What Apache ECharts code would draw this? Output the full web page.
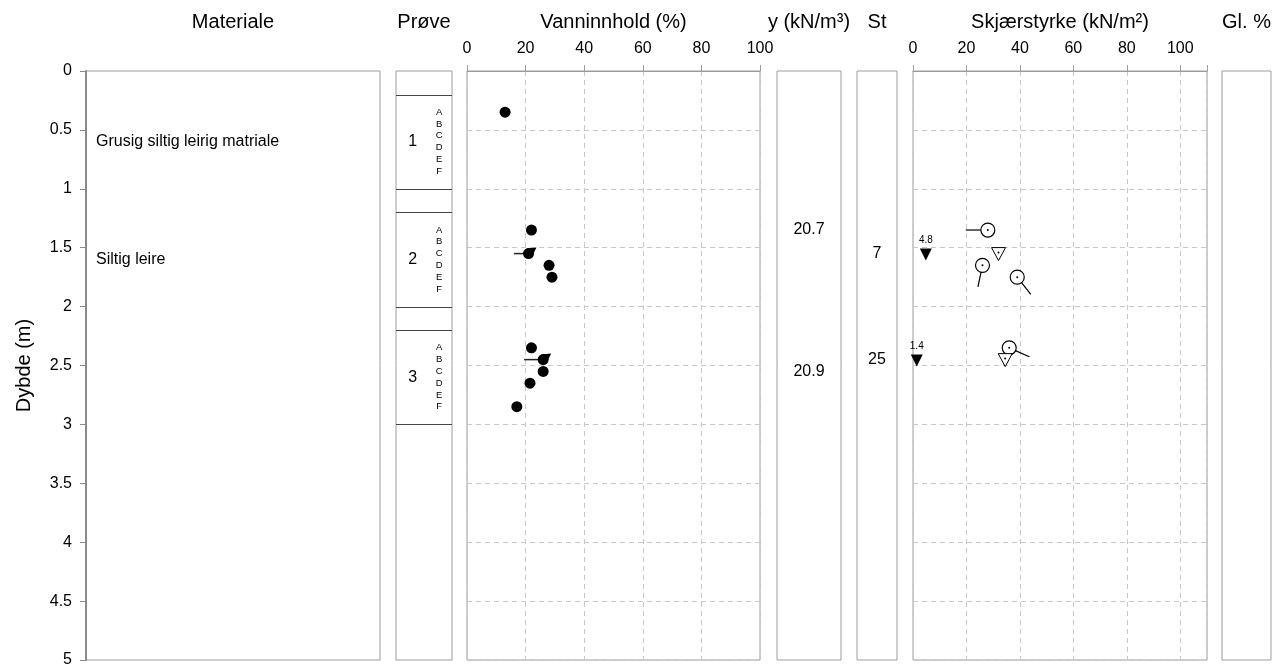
<!DOCTYPE html>
<html><head><meta charset="utf-8">
<script src="https://cdn.jsdelivr.net/npm/echarts@6/dist/echarts.min.js"></script>
<style>html,body{margin:0;padding:0;background:#fff}#c{width:1275px;height:664px}</style>
</head><body><div id="c"></div>
<script>
// ---------------- data ----------------
const depthMin = 0, depthMax = 5, depthStep = 0.5;
const panelTitles = ["Materiale", "Prøve", "Vanninnhold (%)", "y (kN/m³)", "St", "Skjærstyrke (kN/m²)", "Gl. %"];
const materialNames = ["Grusig siltig leirig matriale", "Siltig leire"];
const materialDepths = [0.6, 1.6];
const sampleNumbers = ["1", "2", "3"];
const sampleTops = [0.2, 1.2, 2.2];
const sampleBottoms = [1.0, 2.0, 3.0];
const sampleLetters = ["A", "B", "C", "D", "E", "F"];
const waterDepths = [0.35, 1.35, 1.65, 1.75, 2.35, 2.55, 2.65, 2.85];
const waterValues = [13, 22, 28, 29, 22, 26, 21.5, 17];
const waterFlagDepths = [1.55, 2.45];
const waterFlagValues = [21, 26];
const waterFlagFrom = [16, 19.5];
const unitWeightDepths = [1.35, 2.55];
const unitWeights = ["20.7", "20.9"];
const sensitivityDepths = [1.55, 2.45];
const sensitivities = ["7", "25"];
const suUcDepths = [1.35, 1.65, 1.75, 2.35];
const suUcValues = [28, 26, 39, 36];
const suUcTailAngles = [180, 102, 52, 24];
const suConeDepths = [1.55, 2.45];
const suConeValues = [32, 34.5];
const suRemDepths = [1.55, 2.45];
const suRemValues = [4.8, 1.4];
const waterTicks = {min: 0, max: 100, interval: 20};
const shearTicks = {min: 0, max: 110, interval: 20};

// ---------------- layout ----------------
const FONT = "'Liberation Sans', Arial, Helvetica, sans-serif";
const TOP = 71, HEIGHT = 589;
const panels = [
  {left: 86, width: 294}, {left: 396, width: 56}, {left: 467, width: 293},
  {left: 777, width: 64}, {left: 857, width: 40}, {left: 913, width: 294}, {left: 1222, width: 49}
];
const BORDER = '#9c9c9c', GRIDC = '#c8c8c8';

const grid = panels.map(p => ({left: p.left, width: p.width, top: TOP, height: HEIGHT, show: true,
  borderColor: BORDER, borderWidth: 1, backgroundColor: 'transparent', containLabel: false, outerBoundsMode: 'none'}));

const dashed = {show: true, lineStyle: {color: GRIDC, type: [5, 4], width: 1}};
const xAxis = panels.map((p, i) => {
  if (i === 2 || i === 5) {
    const t = i === 2 ? waterTicks : shearTicks;
    return {type: 'value', gridIndex: i, position: 'top', min: t.min, max: t.max, interval: t.interval,
      axisLine: {show: true, lineStyle: {color: BORDER, width: 1}},
      axisTick: {show: true, inside: false, length: 6, lineStyle: {color: BORDER}},
      axisLabel: {show: true, margin: 14, color: '#000', fontSize: 16, fontFamily: FONT,
        formatter: v => (v > 100 ? '' : String(v))},
      splitLine: dashed};
  }
  return {type: 'value', gridIndex: i, min: 0, max: 1, show: false};
});
const yAxis = panels.map((p, i) => {
  const base = {type: 'value', gridIndex: i, inverse: true, min: depthMin, max: depthMax, interval: depthStep};
  if (i === 0) {
    return Object.assign(base, {
      name: 'Dybde (m)', nameLocation: 'middle', nameGap: 52, nameRotate: 90,
      nameTextStyle: {fontSize: 20, color: '#000', fontFamily: FONT},
      axisLine: {show: true, lineStyle: {color: '#8a8a8a', width: 2}},
      axisTick: {show: true, inside: false, length: 6, lineStyle: {color: '#8a8a8a', width: 1}},
      axisLabel: {show: true, margin: 14, color: '#000', fontSize: 16, fontFamily: FONT,
        formatter: v => String(v)},
      splitLine: {show: false}
    });
  }
  return Object.assign(base, {axisLine: {show: false}, axisTick: {show: false}, axisLabel: {show: false},
    splitLine: (i === 2 || i === 5) ? dashed : {show: false}});
});

function textSeries(gi, xVal, depths, texts, size, align, dx) {
  return {type: 'custom', xAxisIndex: gi, yAxisIndex: gi, silent: true, z: 5,
    data: depths.map((d, k) => [xVal, d, k]),
    renderItem: (params, api) => {
      const p = api.coord([api.value(0), api.value(1)]);
      return {type: 'text', x: p[0] + (dx || 0), y: p[1],
        style: {text: texts[api.value(2)], fontSize: size, fontFamily: FONT, fill: '#000',
          align: align, verticalAlign: 'middle'}};
    }};
}

const series = [];
// Materiale
series.push(textSeries(0, 0, materialDepths, materialNames, 16, 'left', 10));
// Prøve boundaries
const boundaries = sampleTops.concat(sampleBottoms);
series.push({type: 'custom', xAxisIndex: 1, yAxisIndex: 1, silent: true, z: 4,
  data: boundaries.map(d => [0, d]),
  renderItem: (params, api) => {
    const a = api.coord([0, api.value(1)]), b = api.coord([1, api.value(1)]);
    return {type: 'line', shape: {x1: a[0], y1: Math.round(a[1]) + 0.5, x2: b[0], y2: Math.round(b[1]) + 0.5},
      style: {stroke: '#444', lineWidth: 1}};
  }});
series.push(textSeries(1, 0.3, sampleTops.map((t, i) => (t + sampleBottoms[i]) / 2), sampleNumbers, 16, 'center', 0));
const letterDepths = [], letterTexts = [];
sampleTops.forEach((t, i) => {
  const mid = (t + sampleBottoms[i]) / 2;
  sampleLetters.forEach((L, j) => { letterDepths.push(mid - 0.25 + 0.1 * j); letterTexts.push(L); });
});
series.push(textSeries(1, 0.77, letterDepths, letterTexts, 9.5, 'center', 0));
// Vanninnhold
series.push({type: 'scatter', xAxisIndex: 2, yAxisIndex: 2, symbol: 'circle', symbolSize: 11,
  itemStyle: {color: '#000', opacity: 1}, z: 6, data: waterValues.map((v, i) => [v, waterDepths[i]])});
series.push({type: 'custom', xAxisIndex: 2, yAxisIndex: 2, silent: true, z: 6,
  data: waterFlagValues.map((v, i) => [v, waterFlagDepths[i], waterFlagFrom[i]]),
  renderItem: (params, api) => {
    const p = api.coord([api.value(0), api.value(1)]);
    const f = api.coord([api.value(2), api.value(1)]);
    return {type: 'group', children: [
      {type: 'line', shape: {x1: f[0], y1: p[1], x2: p[0], y2: p[1]}, style: {stroke: '#222', lineWidth: 1.5}},
      {type: 'circle', shape: {cx: p[0], cy: p[1], r: 5.5}, style: {fill: '#000'}},
      {type: 'polygon', shape: {points: [[p[0] - 2, p[1] - 5], [p[0] + 8, p[1] - 6], [p[0] + 4, p[1] + 2]]}, style: {fill: '#000'}}
    ]};
  }});
// y and St
series.push(textSeries(3, 0.5, unitWeightDepths, unitWeights, 16, 'center', 0));
series.push(textSeries(4, 0.5, sensitivityDepths, sensitivities, 16, 'center', 0));
// Skjærstyrke: unconfined (circle with tail)
series.push({type: 'custom', xAxisIndex: 5, yAxisIndex: 5, silent: true, z: 6,
  data: suUcValues.map((v, i) => [v, suUcDepths[i], suUcTailAngles[i]]),
  renderItem: (params, api) => {
    const p = api.coord([api.value(0), api.value(1)]);
    const a = api.value(2) * Math.PI / 180, L = 22;
    return {type: 'group', children: [
      {type: 'line', shape: {x1: p[0], y1: p[1], x2: p[0] + L * Math.cos(a), y2: p[1] + L * Math.sin(a)}, style: {stroke: '#000', lineWidth: 1.2}},
      {type: 'circle', shape: {cx: p[0], cy: p[1], r: 7}, style: {fill: '#fff', stroke: '#000', lineWidth: 1.2}},
      {type: 'circle', shape: {cx: p[0], cy: p[1], r: 1}, style: {fill: '#000'}}
    ]};
  }});
// cone (open inverted triangle with dot)
series.push({type: 'custom', xAxisIndex: 5, yAxisIndex: 5, silent: true, z: 6,
  data: suConeValues.map((v, i) => [v, suConeDepths[i]]),
  renderItem: (params, api) => {
    const p = api.coord([api.value(0), api.value(1)]);
    return {type: 'group', children: [
      {type: 'polygon', shape: {points: [[p[0] - 7, p[1] - 6], [p[0] + 7, p[1] - 6], [p[0], p[1] + 7]]}, style: {fill: '#fff', stroke: '#000', lineWidth: 1}},
      {type: 'circle', shape: {cx: p[0], cy: p[1] - 1, r: 1}, style: {fill: '#000'}}
    ]};
  }});
// remoulded (filled inverted triangle with label)
series.push({type: 'custom', xAxisIndex: 5, yAxisIndex: 5, silent: true, z: 6,
  data: suRemValues.map((v, i) => [v, suRemDepths[i]]),
  renderItem: (params, api) => {
    const p = api.coord([api.value(0), api.value(1)]);
    return {type: 'group', children: [
      {type: 'polygon', shape: {points: [[p[0] - 6, p[1] - 5], [p[0] + 6, p[1] - 5], [p[0], p[1] + 7]]}, style: {fill: '#000'}},
      {type: 'text', x: p[0], y: p[1] - 13, style: {text: String(api.value(0)), fontSize: 10, fontFamily: FONT, fill: '#000', align: 'center', verticalAlign: 'middle'}}
    ]};
  }});

const graphic = panelTitles.map((t, i) => ({type: 'text', x: panels[i].left + panels[i].width / 2, y: 22,
  style: {text: t, fontSize: 20, fontFamily: FONT, fill: '#000', align: 'center', verticalAlign: 'middle'}}));

const chart = echarts.init(document.getElementById('c'), null, {renderer: 'canvas'});
chart.setOption({animation: false, backgroundColor: '#fff', grid, xAxis, yAxis, series, graphic});
</script></body></html>
